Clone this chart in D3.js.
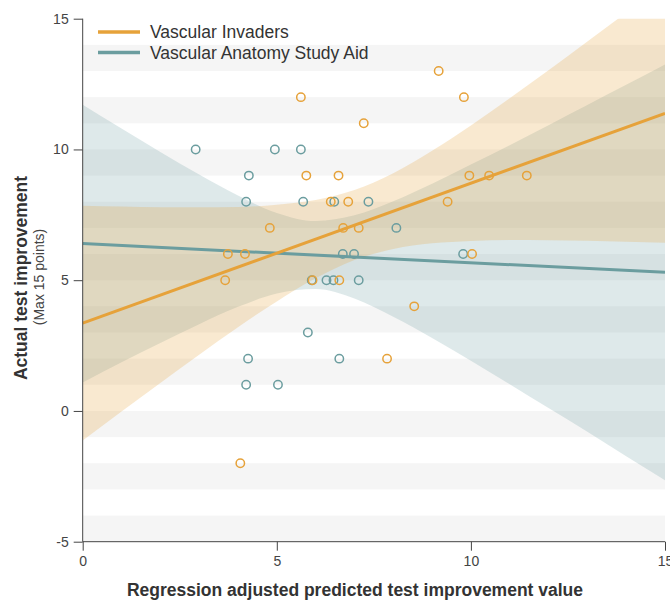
<!DOCTYPE html>
<html>
<head>
<meta charset="utf-8">
<script src="https://cdn.jsdelivr.net/npm/d3@7"></script>
<style>
  body { margin: 0; background: #fff; }
  svg text { font-family: "Liberation Sans", Arial, Helvetica, sans-serif; }
</style>
</head>
<body>
<div id="chart"></div>
<script>
// scatter points
var invadersX = [5.62, 7.24, 9.17, 9.82, 5.76, 6.59, 9.96, 10.47, 11.44, 6.39, 6.84, 9.40,
                 4.82, 6.71, 7.11, 3.74, 4.18, 10.03, 3.67, 5.92, 6.61, 8.54, 7.84, 4.06];
var invadersY = [12, 11, 13, 12, 9, 9, 9, 9, 9, 8, 8, 8,
                 7, 7, 7, 6, 6, 6, 5, 5, 5, 4, 2, -2];
var studyAidX = [2.91, 4.95, 5.62, 4.28, 4.21, 5.68, 6.48, 7.36, 8.08, 6.70, 6.99,
                 9.80, 5.90, 6.28, 6.46, 7.11, 5.80, 4.26, 6.61, 4.21, 5.03];
var studyAidY = [10, 10, 10, 9, 8, 8, 8, 8, 7, 6, 6,
                 6, 5, 5, 5, 5, 3, 2, 2, 1, 1];

// fitted lines (ends) and confidence bands
var fitX = [0, 15];
var invadersFit = [3.36, 11.38];
var studyAidFit = [6.40, 5.30];
var bandX = [0, 1, 2, 3, 4, 5, 6, 7, 8, 9, 10, 11, 12, 13, 14, 15];
var invadersLower = [-1.13, -0.02, 1.07, 2.15, 3.20, 4.19, 5.07, 5.77, 6.19, 6.41, 6.50, 6.54, 6.53, 6.51, 6.47, 6.43];
var invadersUpper = [7.85, 7.82, 7.79, 7.79, 7.80, 7.89, 8.07, 8.45, 9.09, 9.95, 10.92, 11.96, 13.03, 14.13, 15.23, 16.35];
var studyAidLower = [1.09, 1.86, 2.60, 3.32, 3.98, 4.49, 4.66, 4.30, 3.60, 2.79, 1.92, 1.02, 0.11, -0.80, -1.73, -2.65];
var studyAidUpper = [11.71, 10.80, 9.90, 9.04, 8.24, 7.57, 7.26, 7.48, 8.02, 8.69, 9.42, 10.16, 10.93, 11.70, 12.47, 13.25];

var xTicks = [0, 5, 10, 15];
var yTicks = [-5, 0, 5, 10, 15];
var seriesNames = ['Vascular Invaders', 'Vascular Anatomy Study Aid'];

var orange = '#e6a23a';
var teal = '#6b9d9f';

var svgWidth = 670, svgHeight = 600;
var svg = d3.select('#chart').append('svg')
  .attr('width', svgWidth)
  .attr('height', svgHeight);

var x = d3.scaleLinear().domain([0, 15]).range([82.7, 665]);
var y = d3.scaleLinear().domain([-5, 15]).range([541.7, 18.7]);

svg.append('clipPath').attr('id', 'plotclip')
  .append('rect')
  .attr('x', x(0)).attr('y', y(15))
  .attr('width', x(15) - x(0)).attr('height', y(-5) - y(15));

// grey stripes
svg.append('g').selectAll('rect')
  .data(d3.range(-5, 15, 2))
  .enter().append('rect')
  .attr('x', x(0))
  .attr('width', x(15) - x(0))
  .attr('y', function(d) { return y(d + 1); })
  .attr('height', function(d) { return y(d) - y(d + 1); })
  .attr('fill', '#f5f5f5');

var plot = svg.append('g').attr('clip-path', 'url(#plotclip)');

function band(lower, upper) {
  return d3.area()
    .x(function(d, i) { return x(bandX[i]); })
    .y0(function(d, i) { return y(lower[i]); })
    .y1(function(d, i) { return y(upper[i]); })
    .curve(d3.curveMonotoneX)(bandX);
}

plot.append('path')
  .attr('d', band(studyAidLower, studyAidUpper))
  .attr('fill', teal).attr('fill-opacity', 0.22);
plot.append('path')
  .attr('d', band(invadersLower, invadersUpper))
  .attr('fill', orange).attr('fill-opacity', 0.24);

function fitLine(vals) {
  return d3.line()
    .x(function(d, i) { return x(fitX[i]); })
    .y(function(d) { return y(d); })(vals);
}

plot.append('path').attr('d', fitLine(studyAidFit))
  .attr('fill', 'none').attr('stroke', teal).attr('stroke-width', 3);
plot.append('path').attr('d', fitLine(invadersFit))
  .attr('fill', 'none').attr('stroke', orange).attr('stroke-width', 3);

// points
plot.append('g').selectAll('circle')
  .data(studyAidX)
  .enter().append('circle')
  .attr('cx', function(d) { return x(d); })
  .attr('cy', function(d, i) { return y(studyAidY[i]); })
  .attr('r', 4.2)
  .attr('fill', 'none')
  .attr('stroke', teal)
  .attr('stroke-width', 1.5);

plot.append('g').selectAll('circle')
  .data(invadersX)
  .enter().append('circle')
  .attr('cx', function(d) { return x(d); })
  .attr('cy', function(d, i) { return y(invadersY[i]); })
  .attr('r', 4.2)
  .attr('fill', 'none')
  .attr('stroke', orange)
  .attr('stroke-width', 1.5);

// axes (plain hyphen for negatives, like the original)
var plainNum = function(d) { return String(d); };
var xAxis = svg.append('g')
  .attr('transform', 'translate(0,' + y(-5) + ')')
  .call(d3.axisBottom(x).tickValues(xTicks).tickFormat(plainNum).tickSize(9).tickPadding(5));
var yAxis = svg.append('g')
  .attr('transform', 'translate(' + x(0) + ',0)')
  .call(d3.axisLeft(y).tickValues(yTicks).tickFormat(plainNum).tickSize(9).tickPadding(5));

[xAxis, yAxis].forEach(function(a) {
  a.select('.domain').attr('stroke', '#444');
  a.selectAll('.tick line').attr('stroke', '#444');
  a.selectAll('.tick text')
    .attr('fill', '#444')
    .style('font-size', '14px')
    .style('font-family', '"Liberation Sans", Arial, sans-serif');
});
// no outer ticks, the two axis lines just meet at the corner
xAxis.select('.domain').attr('d', 'M' + x(0) + ',0H' + x(15));
yAxis.select('.domain').attr('d', 'M0,' + y(-5) + 'V' + y(15));

// axis titles
svg.append('text')
  .attr('x', 355).attr('y', 596)
  .attr('text-anchor', 'middle')
  .style('font-size', '17.5px').style('font-weight', 'bold')
  .attr('fill', '#333')
  .text('Regression adjusted predicted test improvement value');

svg.append('text')
  .attr('transform', 'translate(27,278) rotate(-90)')
  .attr('text-anchor', 'middle')
  .style('font-size', '17.5px').style('font-weight', 'bold')
  .attr('fill', '#333')
  .text('Actual test improvement');

svg.append('text')
  .attr('transform', 'translate(44,277) rotate(-90)')
  .attr('text-anchor', 'middle')
  .style('font-size', '14px')
  .attr('fill', '#444')
  .text('(Max 15 points)');

// legend
var legend = svg.append('g').selectAll('g')
  .data(seriesNames)
  .enter().append('g')
  .attr('transform', function(d, i) { return 'translate(98,' + (32 + i * 20.5) + ')'; });
legend.append('line')
  .attr('x1', 0).attr('x2', 42)
  .attr('stroke', function(d, i) { return i === 0 ? orange : teal; })
  .attr('stroke-width', 3.5);
legend.append('text')
  .attr('x', 52).attr('y', 6)
  .style('font-size', '17.5px')
  .attr('fill', '#333')
  .text(function(d) { return d; });
</script>
</body>
</html>
